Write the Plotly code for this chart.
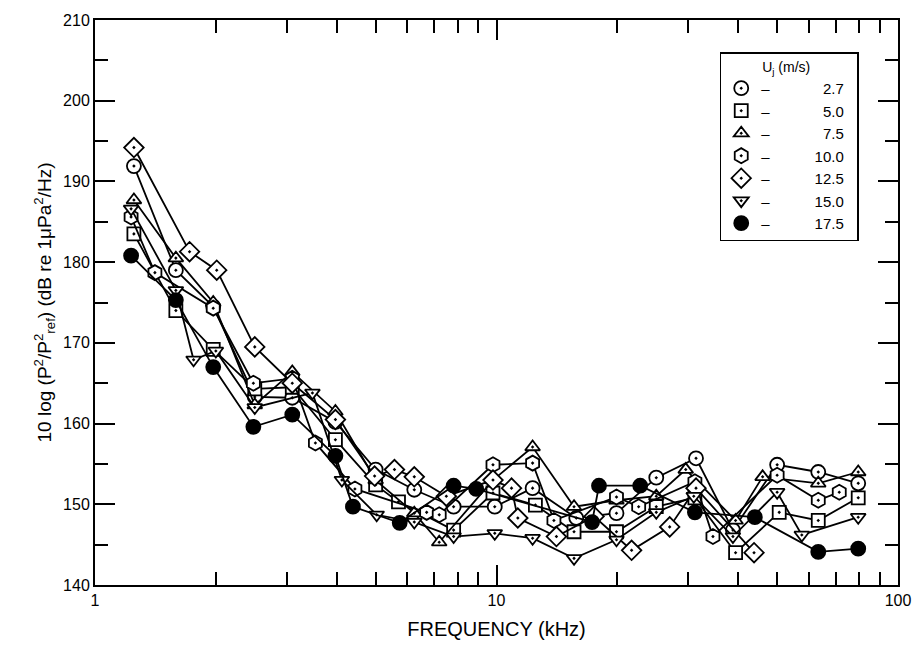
import plotly.graph_objects as go

# ---- data (frequency in kHz, level in dB) ----
f_27 = [1.25, 1.59, 1.97, 2.5, 3.1, 3.97, 5.0, 6.24, 7.82, 9.9, 12.3, 15.8, 19.9, 25.0, 31.4, 38.8, 50.0, 63.3, 79.6]
v_27 = [191.9, 179.0, 174.5, 163.3, 163.2, 160.2, 154.3, 151.8, 149.7, 149.7, 152.0, 148.3, 148.9, 153.3, 155.7, 146.8, 154.9, 154.0, 152.6]

f_50 = [1.25, 1.59, 1.97, 2.5, 3.1, 3.97, 5.0, 5.7, 7.82, 9.8, 12.5, 15.6, 19.9, 25.0, 31.2, 39.4, 50.6, 63.3, 79.6]
v_50 = [183.5, 174.0, 169.2, 164.3, 164.5, 158.0, 152.4, 150.3, 146.8, 151.4, 149.9, 146.6, 146.6, 149.7, 150.8, 144.0, 149.0, 148.0, 150.8]

f_75 = [1.25, 1.59, 1.97, 2.5, 3.1, 3.97, 5.0, 6.24, 7.2, 9.8, 12.3, 15.6, 19.9, 25.0, 29.6, 39.4, 46.0, 63.3, 79.6]
v_75 = [187.7, 180.5, 175.0, 162.3, 166.4, 161.5, 153.0, 148.9, 145.3, 153.0, 157.1, 149.7, 150.5, 151.0, 154.3, 148.0, 153.4, 152.6, 154.0]

f_100 = [1.23, 1.41, 1.97, 2.48, 3.1, 3.54, 4.44, 6.7, 7.2, 9.8, 12.3, 13.9, 19.9, 22.6, 31.2, 34.6, 50.0, 63.3, 71.4]
v_100 = [185.6, 178.7, 174.3, 165.0, 165.6, 157.6, 151.9, 149.0, 148.7, 154.9, 155.1, 148.0, 150.9, 149.7, 152.8, 146.0, 153.6, 150.5, 151.5]

f_125 = [1.25, 1.72, 2.01, 2.5, 3.1, 3.97, 4.97, 5.57, 6.24, 7.5, 9.8, 10.9, 11.3, 14.1, 17.5, 21.7, 27.0, 31.4, 43.8]
v_125 = [194.2, 181.3, 179.0, 169.5, 165.0, 160.5, 153.5, 154.3, 153.4, 151.0, 153.0, 152.0, 148.3, 146.0, 148.5, 144.3, 147.2, 152.0, 144.0]

f_150 = [1.23, 1.59, 1.76, 2.0, 2.5, 3.48, 4.12, 5.03, 6.24, 7.82, 9.9, 12.3, 15.6, 19.9, 25.0, 31.0, 38.8, 50.0, 57.6, 79.6]
v_150 = [186.6, 176.5, 167.9, 169.0, 162.0, 163.8, 153.0, 148.7, 147.8, 146.0, 146.4, 145.8, 143.3, 145.6, 149.0, 151.0, 146.0, 151.5, 146.2, 148.4]

f_175 = [1.23, 1.59, 1.97, 2.48, 3.1, 3.97, 4.39, 5.74, 7.82, 8.9, 17.3, 18.0, 22.8, 31.2, 44.0, 63.3, 79.6]
v_175 = [180.8, 175.3, 167.0, 159.6, 161.1, 156.0, 149.7, 147.7, 152.3, 151.9, 147.8, 152.3, 152.3, 149.0, 148.4, 144.1, 144.5]

labels = ["2.7", "5.0", "7.5", "10.0", "12.5", "15.0", "17.5"]
series = [(f_27, v_27), (f_50, v_50), (f_75, v_75), (f_100, v_100),
          (f_125, v_125), (f_150, v_150), (f_175, v_175)]
symbols = ["circle-dot", "square-dot", "triangle-up-dot", "hexagon-dot",
           "diamond-dot", "triangle-down-dot", "circle"]
fills = ["white"] * 6 + ["black"]
sizes = [14, 13, 13, 15, 15, 13, 14]

fig = go.Figure()
for (fx, vy), sym, fc, sz in zip(series, symbols, fills, sizes):
    fig.add_trace(go.Scatter(
        x=fx, y=vy, mode="lines+markers", showlegend=False,
        line=dict(color="black", width=1.8),
        marker=dict(symbol=sym, size=sz, color=fc,
                    line=dict(color="black", width=1.8)),
    ))

# legend-only entries
for lab, sym, fc, sz in zip(labels, symbols, fills, sizes):
    fig.add_trace(go.Scatter(
        x=[None], y=[None], mode="markers",
        name="\u2013" + "\u2003\u2003\u2003" + lab.rjust(4, "\u2007") + "\u2002",
        marker=dict(symbol=sym, size=sz, color=fc,
                    line=dict(color="black", width=1.8)),
    ))

font_family = "Liberation Sans, Arial, sans-serif"

fig.update_layout(
    width=923, height=654,
    margin=dict(l=95, r=16, t=20, b=69),
    paper_bgcolor="white", plot_bgcolor="white",
    font=dict(family=font_family, color="black", size=15),
    legend=dict(
        title=dict(text="          U<sub>j</sub> (m/s)", font=dict(size=14)),
        x=0.778, y=0.943, xanchor="left", yanchor="top",
        bordercolor="black", borderwidth=1.5, bgcolor="white",
        font=dict(size=15), tracegroupgap=0, itemwidth=30,
    ),
    xaxis=dict(
        type="log", range=[0, 2],
        tickvals=[1, 10, 100], ticktext=["1", "10", "100"],
        ticks="inside", ticklen=20, tickwidth=1.5, tickcolor="black",
        minor=dict(ticks="inside", ticklen=13, tickwidth=1.5, tickcolor="black",
                   tickvals=[2, 3, 4, 5, 6, 7, 8, 9, 20, 30, 40, 50, 60, 70, 80, 90],
                   showgrid=False),
        showline=True, linecolor="black", linewidth=2, mirror="ticks",
        showgrid=False, zeroline=False,
        tickfont=dict(size=16),
        title=dict(text="FREQUENCY (kHz)", font=dict(size=20), standoff=14),
    ),
    yaxis=dict(
        range=[140, 210], tickvals=[140, 150, 160, 170, 180, 190, 200, 210],
        ticks="inside", ticklen=20, tickwidth=1.5, tickcolor="black",
        minor=dict(ticks="inside", ticklen=13, tickwidth=1.5, tickcolor="black",
                   dtick=5, showgrid=False),
        showline=True, linecolor="black", linewidth=2, mirror="ticks",
        showgrid=False, zeroline=False,
        tickfont=dict(size=16),
        title=dict(text="10 log (P<sup>2</sup>/P<sup>2</sup><sub>ref</sub>) (dB re 1\u03bcPa<sup>2</sup>/Hz)",
                   font=dict(size=19), standoff=6),
    ),
)

fig.write_html("out.html")
